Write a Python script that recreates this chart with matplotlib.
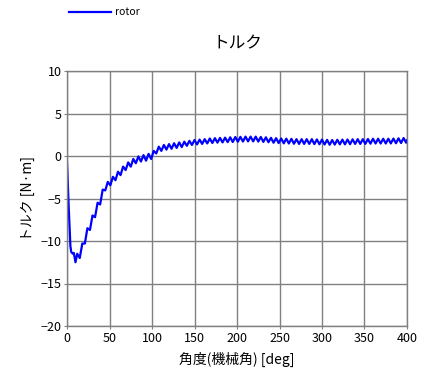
import matplotlib
matplotlib.use("Agg")
import matplotlib.pyplot as plt
import numpy as np

plt.rcParams['font.family'] = ['Noto Sans CJK JP', 'DejaVu Sans']

# 角度 [deg]
angle_head = [0, 2, 4, 5, 7, 8, 10]
angle_grid = list(range(12, 400, 3))
angle = np.array(angle_head + angle_grid + [400])

# トルク [N·m]
torque_head = [-0.7, -6.0, -10.6, -11.3, -11.5, -11.4, -12.5]
torque_grid = [
    -11.5, -12.0, -10.3, -10.3, -8.5, -8.7, -7.0, -7.2, -5.5, -5.7,
    -3.95, -4.05, -3.05, -3.45, -2.45, -2.85, -1.85, -2.25, -1.25, -1.65,
    -0.75, -1.25, -0.35, -0.85, -0.05, -0.65, 0.1, -0.55, 0.25, -0.35,
    0.6, 0.3, 1.1, 0.6, 1.3, 0.75, 1.4, 0.85, 1.5, 0.95,
    1.6, 1.05, 1.68, 1.2, 1.78, 1.3, 1.88, 1.36, 1.93, 1.42,
    1.98, 1.48, 2.06, 1.53, 2.1, 1.57, 2.13, 1.6, 2.16, 1.63,
    2.2, 1.65, 2.23, 1.68, 2.25, 1.7, 2.28, 1.72, 2.28, 1.72,
    2.28, 1.7, 2.24, 1.66, 2.2, 1.62, 2.14, 1.56, 2.1, 1.52,
    2.06, 1.49, 2.04, 1.47, 2.02, 1.44, 1.98, 1.42, 1.98, 1.42,
    1.98, 1.42, 1.98, 1.4, 1.95, 1.38, 1.93, 1.35, 1.9, 1.32,
    1.88, 1.34, 1.91, 1.37, 1.93, 1.37, 1.94, 1.39, 1.96, 1.42,
    1.98, 1.42, 1.98, 1.43, 2.0, 1.45, 2.03, 1.47, 2.03, 1.47,
    2.03, 1.47, 2.03, 1.48, 2.05, 1.5, 2.08, 1.53, 2.11, 1.56,
]
torque = np.array(torque_head + torque_grid + [1.85])

xticks = [0, 50, 100, 150, 200, 250, 300, 350, 400]
yticks = [-20, -15, -10, -5, 0, 5, 10]

fig = plt.figure(figsize=(4.31, 3.82), dpi=100)
ax = fig.add_axes([67/431, 56/382, 340/431, 255/382])

line, = ax.plot(angle, torque, color='#0000ff', linewidth=1.6, label='rotor')

ax.set_xlim(0, 400)
ax.set_ylim(-20, 10)
ax.set_xticks(xticks)
ax.set_yticks(yticks)
ax.grid(True, color='#808080', linewidth=1.0)
ax.set_axisbelow(True)
for s in ax.spines.values():
    s.set_color('#808080')
    s.set_linewidth(1.0)
ax.tick_params(length=2, color='#808080', labelsize=9, pad=2)

ax.set_title('トルク', fontsize=12, pad=16)
ax.set_xlabel('角度(機械角) [deg]', fontsize=10, labelpad=5)
ax.set_ylabel('トルク [N·m]', fontsize=10, labelpad=4)

fig.legend(handles=[line], loc='upper left', bbox_to_anchor=(60/431, 1.005),
           frameon=False, fontsize=7.5, handlelength=4.0, handletextpad=0.4)

plt.savefig('out.png', dpi=100)
